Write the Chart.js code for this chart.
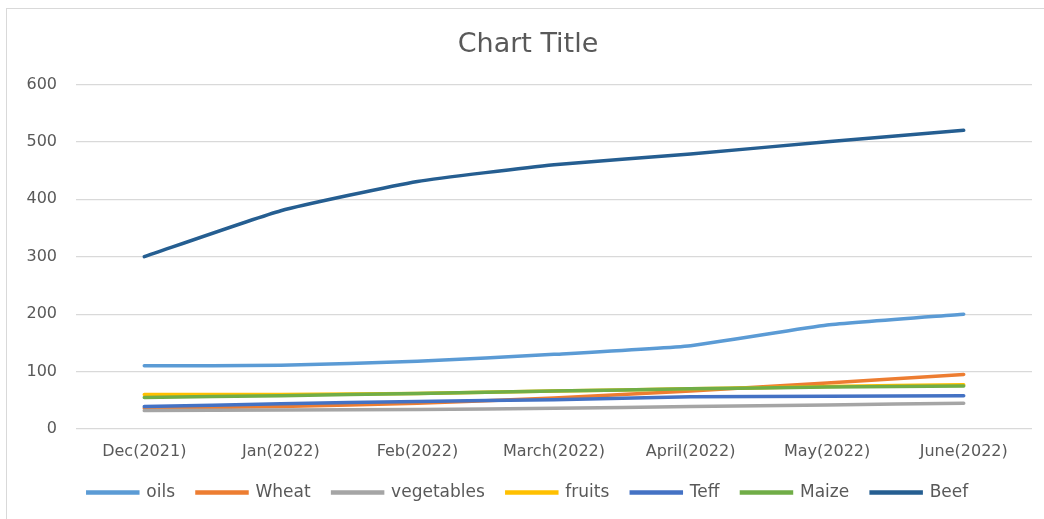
<!DOCTYPE html>
<html>
<head>
<meta charset="utf-8">
<script src="https://cdn.jsdelivr.net/npm/chart.js@4"></script>
<style>
  body { margin: 0; background: #fff; }
  #frame { position: absolute; left: 6px; top: 8px; width: 1100px; height: 600px; border: 1.5px solid #d9d9d9; }
  #wrap { position: absolute; left: 0; top: 0; width: 1044px; height: 519px; }
</style>
</head>
<body>
<div id="frame"></div>
<div id="wrap"><canvas id="lineChart" width="1044" height="519"></canvas></div>
<script>
// Mois (axe des x)
const months = ['Dec(2021)', 'Jan(2022)', 'Feb(2022)', 'March(2022)', 'April(2022)', 'May(2022)', 'June(2022)'];

// Valeurs par série
const oils = [110, 111, 118, 130, 145, 181, 200];
const wheat = [36, 39, 45, 54, 66, 80, 95];
const vegetables = [32, 33, 34, 36, 39, 42, 45];
const fruits = [60, 60, 62, 66, 70, 74, 77];
const teff = [39, 44, 48, 51, 56, 57, 58];
const maize = [55, 58, 62, 66, 70, 73, 75];
const beef = [300, 380, 431, 460, 479, 500, 520];

const yTicks = [0, 100, 200, 300, 400, 500, 600];

const textColor = '#595959';
const font = 'DejaVu Sans';

function serie(label, data, color, order) {
    return {
        label: label,
        data: data,
        borderColor: color,
        backgroundColor: color,
        borderWidth: 3.5,
        pointRadius: 0,
        tension: 0.15,
        borderCapStyle: 'round',
        order: order
    };
}

const data = {
    labels: months,
    datasets: [
        serie('oils', oils, '#5B9BD5', 7),
        serie('Wheat', wheat, '#ED7D31', 6),
        serie('vegetables', vegetables, '#A5A5A5', 5),
        serie('fruits', fruits, '#FFC000', 4),
        serie('Teff', teff, '#4472C4', 3),
        serie('Maize', maize, '#70AD47', 2),
        serie('Beef', beef, '#255E91', 1)
    ]
};

const options = {
    responsive: false,
    animation: false,
    layout: { padding: { left: 24, right: 12, top: 0, bottom: 8 } },
    plugins: {
        title: {
            display: true,
            text: 'Chart Title',
            color: textColor,
            font: { family: font, size: 27, weight: 'normal' },
            padding: { top: 29, bottom: 23 }
        },
        legend: {
            position: 'bottom',
            labels: {
                color: textColor,
                font: { family: font, size: 17 },
                boxWidth: 50,
                boxHeight: 1,
                padding: 22,
                sort: (a, b) => a.datasetIndex - b.datasetIndex
            }
        },
        tooltip: { enabled: false }
    },
    scales: {
        x: {
            offset: true,
            grid: { display: false, drawTicks: false },
            border: { display: false },
            ticks: { color: textColor, font: { family: font, size: 16 }, padding: 13, maxRotation: 0 },
            afterFit: (scale) => { scale.height = 33; }
        },
        y: {
            min: 0,
            max: 600,
            afterBuildTicks: (scale) => { scale.ticks = yTicks.map(v => ({ value: v })); },
            grid: { color: '#d9d9d9', lineWidth: 1.2, drawTicks: false },
            border: { display: false },
            ticks: { color: textColor, font: { family: font, size: 16 }, padding: 19 },
            afterFit: (scale) => { scale.width = 52; }
        }
    }
};

const ctx = document.getElementById('lineChart').getContext('2d');
const myLineChart = new Chart(ctx, { type: 'line', data: data, options: options });
</script>
</body>
</html>
